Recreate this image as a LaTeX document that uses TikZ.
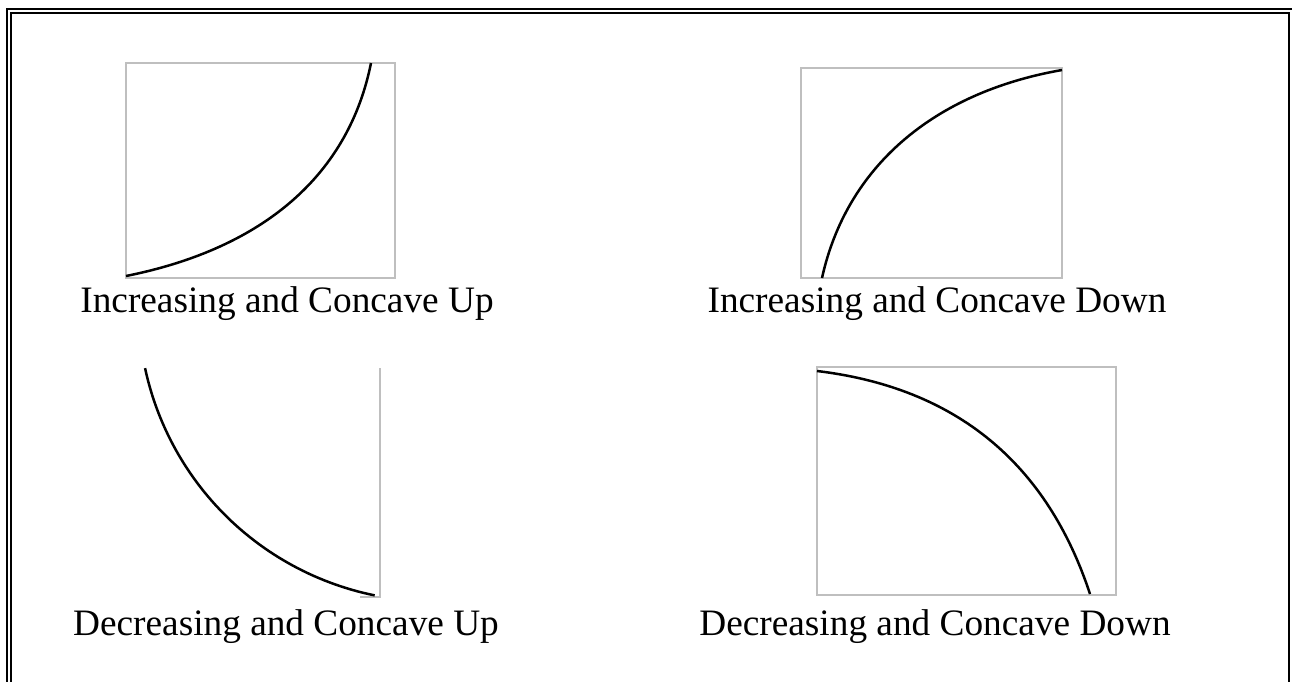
\documentclass[tikz,border=0pt]{standalone}
\usepackage{fontspec}
\setmainfont{Liberation Serif}
\begin{document}
\begin{tikzpicture}[x=1pt,y=-1pt,
  framebox/.style={draw=black,line width=2pt},
  graybox/.style={draw=black!25,line width=1.2pt},
  curveline/.style={draw=black,line width=2.5pt},
  caption/.style={anchor=base,inner sep=0pt,font=\fontsize{37.3}{44}\selectfont}]
\useasboundingbox (0,0) rectangle (1292,681);
\begin{scope}
\clip (0,0) rectangle (1292,681);
\draw[framebox] (7,9) rectangle (1294,700);
\draw[framebox] (11,13) rectangle (1289,700);
\end{scope}
% box 1: increasing, concave up
\draw[graybox] (126,63) rectangle (395,278);
\draw[curveline] (126,276) .. controls (266,248) and (349,173) .. (371,63);
% box 2: increasing, concave down
\draw[graybox] (801,68) rectangle (1062,278);
\draw[curveline] (822,278) .. controls (846.2,168) and (932,92.75) .. (1062,70);
% box 3: decreasing, concave up
\draw[graybox] (360,597) -- (380,597) -- (380,368);
\draw[curveline] plot[domain=101.5:167.9,samples=60] ({433.5+295*cos(\x)},{306.3+295*sin(\x)});
% box 4: decreasing, concave down
\draw[graybox] (817,367) rectangle (1116,595);
\draw[curveline] (817,371) .. controls (957,387.8) and (1047.1,464) .. (1090,594);
% captions
\node[caption] (t1) at (287,312) {Increasing and Concave Up};
\node[caption] (t2) at (937,312) {Increasing and Concave Down};
\node[caption] (t3) at (286,635) {Decreasing and Concave Up};
\node[caption] (t4) at (935,635) {Decreasing and Concave Down};
\end{tikzpicture}
\end{document}
